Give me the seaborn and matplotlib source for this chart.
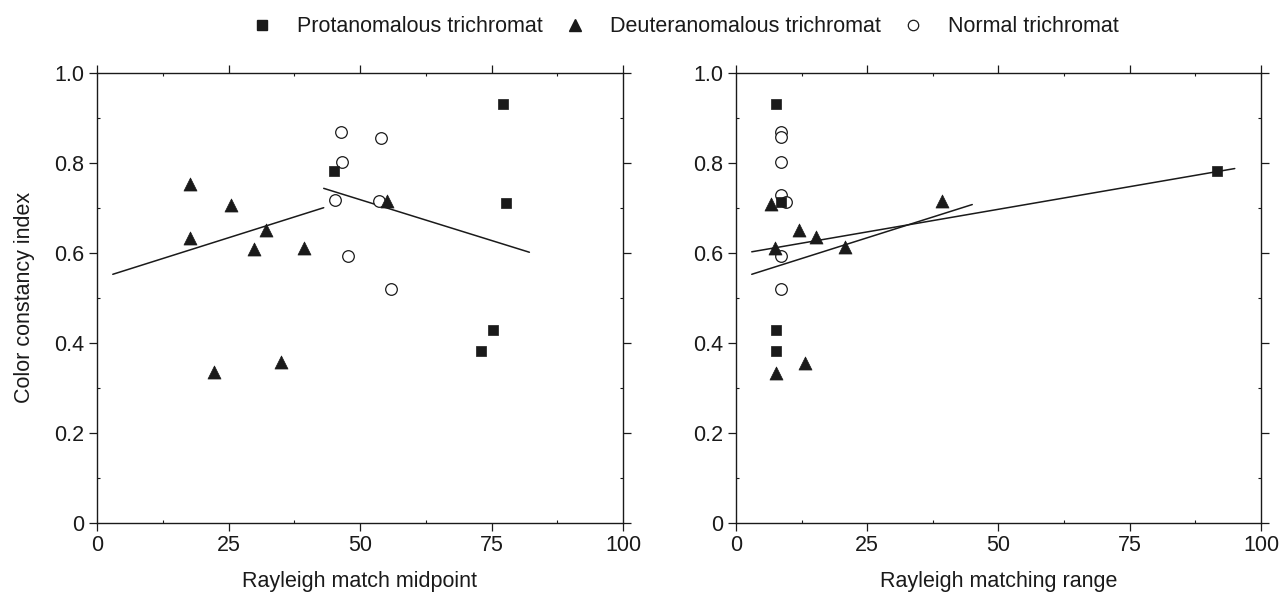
import matplotlib
matplotlib.use("Agg")
import matplotlib.pyplot as plt
import seaborn as sns
import pandas as pd
from matplotlib.ticker import MultipleLocator
from matplotlib.lines import Line2D

sns.set_theme(style="white")
plt.rcParams['font.family'] = ['Liberation Sans', 'DejaVu Sans']

# ---- data ----
# Left panel: Rayleigh match midpoint
prot_mid_x = [77.2, 45.0, 77.8, 75.3, 73.0]
prot_mid_y = [0.931, 0.781, 0.711, 0.429, 0.381]
deut_mid_x = [17.7, 25.5, 32.1, 17.7, 29.9, 39.3, 55.1, 22.3, 35.0]
deut_mid_y = [0.752, 0.707, 0.650, 0.633, 0.609, 0.611, 0.716, 0.336, 0.358]
norm_mid_x = [46.4, 54.0, 46.6, 45.2, 53.6, 47.8, 55.9]
norm_mid_y = [0.869, 0.856, 0.802, 0.718, 0.715, 0.592, 0.519]
fit1_mid_x = [3.0, 43.1]
fit1_mid_y = [0.552, 0.700]
fit2_mid_x = [43.1, 82.2]
fit2_mid_y = [0.743, 0.601]

# Right panel: Rayleigh matching range
prot_rng_x = [7.7, 8.5, 91.7, 7.7, 7.7]
prot_rng_y = [0.931, 0.713, 0.781, 0.429, 0.381]
deut_rng_x = [6.7, 12.0, 15.2, 7.5, 20.7, 39.3, 13.1, 7.7]
deut_rng_y = [0.709, 0.650, 0.635, 0.610, 0.612, 0.716, 0.356, 0.333]
norm_rng_x = [8.5, 8.5, 8.5, 8.5, 9.5, 8.5, 8.5]
norm_rng_y = [0.869, 0.857, 0.802, 0.728, 0.713, 0.593, 0.519]
fit1_rng_x = [3.0, 95.0]
fit1_rng_y = [0.602, 0.787]
fit2_rng_x = [3.0, 45.0]
fit2_rng_y = [0.552, 0.707]

x_ticks = [0, 25, 50, 75, 100]
y_ticks = [0, 0.2, 0.4, 0.6, 0.8, 1.0]
y_tick_labels = ["0", "0.2", "0.4", "0.6", "0.8", "1.0"]
group_labels = ["Protanomalous trichromat", "Deuteranomalous trichromat", "Normal trichromat"]
x_labels = ["Rayleigh match midpoint", "Rayleigh matching range"]
y_label = "Color constancy index"

ink = "#1a1a1a"
FS = 15.5

fig = plt.figure(figsize=(12.88, 5.92), dpi=100)
ax1 = fig.add_axes([97/1288, (592-522.7)/592, 526/1288, 450/592])
ax2 = fig.add_axes([736/1288, (592-522.7)/592, 525/1288, 450/592])

panels = [
    (ax1, prot_mid_x, prot_mid_y, deut_mid_x, deut_mid_y, norm_mid_x, norm_mid_y,
     [(fit1_mid_x, fit1_mid_y), (fit2_mid_x, fit2_mid_y)], x_labels[0]),
    (ax2, prot_rng_x, prot_rng_y, deut_rng_x, deut_rng_y, norm_rng_x, norm_rng_y,
     [(fit1_rng_x, fit1_rng_y), (fit2_rng_x, fit2_rng_y)], x_labels[1]),
]

for ax, px, py, dx, dy, nx, ny, fits, xl in panels:
    for fx, fy in fits:
        sns.lineplot(x=fx, y=fy, ax=ax, color=ink, linewidth=1.1, zorder=2)
    sns.scatterplot(x=nx, y=ny, ax=ax, marker="o", s=70, facecolor="white",
                    edgecolor=ink, linewidth=0.9, zorder=3)
    sns.scatterplot(x=dx, y=dy, ax=ax, marker="^", s=88, color=ink,
                    edgecolor=ink, linewidth=0.5, zorder=4)
    sns.scatterplot(x=px, y=py, ax=ax, marker="s", s=58, color=ink,
                    edgecolor=ink, linewidth=0.5, zorder=4)
    ax.set_xlim(0, 100)
    ax.set_ylim(0, 1.0)
    ax.set_xticks(x_ticks)
    ax.set_yticks(y_ticks)
    ax.set_yticklabels(y_tick_labels)
    ax.xaxis.set_minor_locator(MultipleLocator(12.5))
    ax.yaxis.set_minor_locator(MultipleLocator(0.1))
    ax.tick_params(which="major", direction="out", length=6, width=0.9, color=ink,
                   labelsize=FS, labelcolor=ink, top=True, right=True,
                   bottom=True, left=True, pad=3)
    ax.tick_params(which="minor", direction="in", length=2.5, width=0.8, color=ink,
                   top=True, right=True, bottom=True, left=True)
    for sp in ax.spines.values():
        sp.set_visible(True)
        sp.set_color(ink)
        sp.set_linewidth(1.0)
    ax.set_xlabel(xl, fontsize=FS, color=ink, labelpad=11)
    ax.grid(False)
    ax.set_facecolor("white")

ax1.set_ylabel(y_label, fontsize=FS, color=ink, labelpad=14)
ax2.set_ylabel("")

handles = [
    Line2D([], [], linestyle="none", marker="s", markersize=7.5, color=ink),
    Line2D([], [], linestyle="none", marker="^", markersize=9, color=ink),
    Line2D([], [], linestyle="none", marker="o", markersize=7.5, markerfacecolor="white",
           markeredgecolor=ink, markeredgewidth=0.9),
]
fig.legend(handles, group_labels, loc="upper center", bbox_to_anchor=(0.531, 1.005),
           ncol=3, frameon=False, fontsize=FS, handletextpad=1.03, columnspacing=0.9,
           handlelength=1.2, labelcolor=ink)

fig.savefig("out.png", dpi=100, facecolor="white")
